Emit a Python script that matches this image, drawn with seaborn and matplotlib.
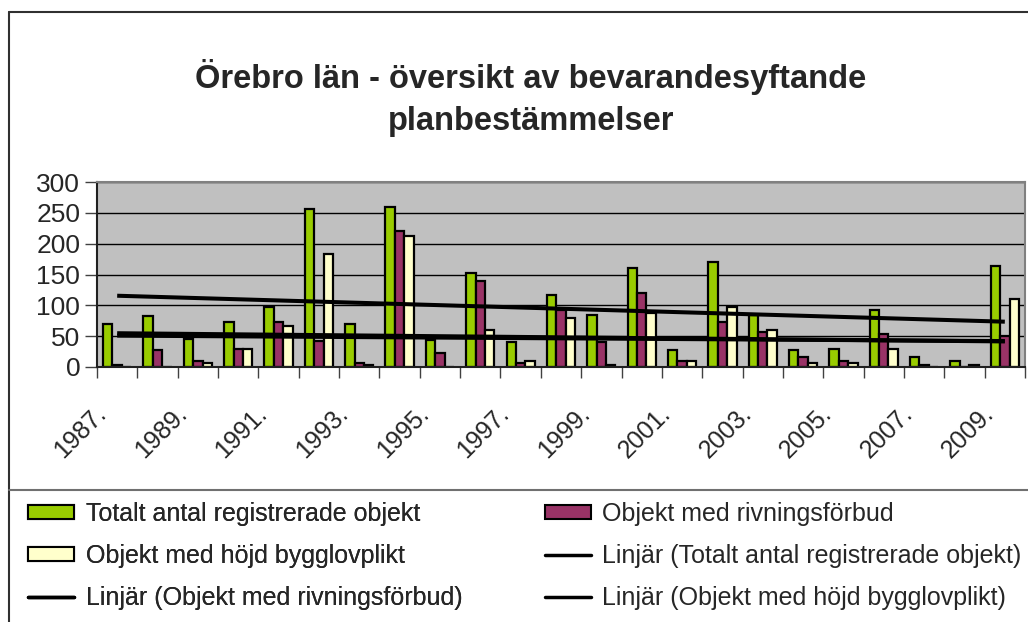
import numpy as np
import pandas as pd
import matplotlib
matplotlib.use("Agg")
import matplotlib.pyplot as plt
import matplotlib.transforms as mtransforms
import seaborn as sns
from matplotlib.lines import Line2D
from matplotlib.patches import Patch

years = [str(y) for y in range(1987, 2010)]
tick_labels = [f"{y}." if (int(y) - 1987) % 2 == 0 else "" for y in years]

totalt = [70, 83, 46, 73, 97, 257, 70, 260, 43, 153, 40, 117, 84, 160, 27, 170, 84, 27, 30, 93, 17, 10, 163]
rivning = [3, 27, 10, 30, 73, 42, 7, 220, 23, 140, 7, 93, 40, 120, 10, 73, 56, 17, 10, 53, 3, 0, 50]
bygglov = [0, 0, 7, 30, 67, 183, 4, 213, 0, 60, 10, 80, 4, 87, 10, 97, 60, 7, 7, 30, 0, 3, 110]

s_tot = "Totalt antal registrerade objekt"
s_riv = "Objekt med rivningsförbud"
s_byg = "Objekt med höjd bygglovplikt"
series_names = [s_tot, s_riv, s_byg]
colors = ["#99CC00", "#993366", "#FFFFCC"]

df = pd.DataFrame({
    "year": years * 3,
    "value": totalt + rivning + bygglov,
    "series": [s_tot] * 23 + [s_riv] * 23 + [s_byg] * 23,
})

sns.set_theme(style="white")
plt.rcParams["font.family"] = ["Liberation Sans", "DejaVu Sans"]

W, H = 1028, 622
fig = plt.figure(figsize=(W / 100, H / 100), dpi=100)
ax = fig.add_axes([97 / W, 1 - 367 / H, (1025 - 97) / W, (367 - 182) / H])
ax.set_facecolor("#C0C0C0")

sns.barplot(data=df, x="year", y="value", hue="series", hue_order=series_names,
            palette=colors, edgecolor="black", linewidth=1.6, width=0.7,
            ax=ax, legend=False, saturation=1)

xs = np.arange(len(years))
for vals in [totalt, rivning, bygglov]:
    k, m = np.polyfit(xs, vals, 1)
    ax.plot(xs, k * xs + m, color="black", lw=2.9, zorder=5, solid_capstyle="butt")

ax.set_ylim(0, 300)
ax.set_xlim(-0.5, len(years) - 0.5)
ax.set_yticks(range(0, 301, 50))
ax.yaxis.grid(True, color="black", lw=1)
ax.set_axisbelow(True)
ax.set_xticks(np.arange(-0.5, len(years), 1))
ax.set_xticklabels([])
ax.set_xticks(xs, minor=True)
ax.set_xticklabels(tick_labels, minor=True, rotation=45, ha="right", va="center",
                   rotation_mode="anchor", fontsize=18)
ax.tick_params(axis="x", which="minor", length=0, pad=31)
shift = mtransforms.ScaledTranslation(-15 / 100, 0, fig.dpi_scale_trans)
for lbl in ax.get_xticklabels(minor=True):
    lbl.set_transform(lbl.get_transform() + shift)
ax.tick_params(axis="x", which="major", length=8, width=1, color="#404040", direction="out")
ax.tick_params(axis="y", length=9, width=1, color="#404040", direction="out", labelsize=19, pad=3)
ax.tick_params(bottom=True, left=True)
ax.set_xlabel("")
ax.set_ylabel("")
for sp in ["top", "right"]:
    ax.spines[sp].set_color("#808080")
    ax.spines[sp].set_linewidth(1.5)
for sp in ["left", "bottom"]:
    ax.spines[sp].set_color("#202020")
    ax.spines[sp].set_linewidth(1.5)

fig.text(531 / W, 1 - 98 / H, "Örebro län - översikt av bevarandesyftande\nplanbestämmelser",
         ha="center", va="center", fontsize=23.5, fontweight="bold", linespacing=1.45)

# chart border and legend separator
fig.add_artist(Line2D([8.5 / W, 8.5 / W], [0, 1 - 12 / H], color="#303030", lw=1.5, transform=fig.transFigure))
fig.add_artist(Line2D([8.5 / W, 1], [1 - 12 / H, 1 - 12 / H], color="#303030", lw=1.5, transform=fig.transFigure))
fig.add_artist(Line2D([8.5 / W, 1], [1 - 490 / H, 1 - 490 / H], color="#707070", lw=1.5, transform=fig.transFigure))

h_tot = Patch(facecolor=colors[0], edgecolor="black", lw=1.5)
h_riv = Patch(facecolor=colors[1], edgecolor="black", lw=1.5)
h_byg = Patch(facecolor=colors[2], edgecolor="black", lw=1.5)
h_line = Line2D([0], [0], color="black", lw=2.5)

leg_kw = dict(loc="upper left", frameon=False, fontsize=18, handlelength=1.85,
              handleheight=0.5, handletextpad=0.45, labelspacing=0.72, borderpad=0,
              borderaxespad=0)
leg1 = fig.legend([h_tot, h_byg, h_line],
                  [s_tot, s_byg, "Linjär (" + s_riv + ")"],
                  bbox_to_anchor=(28 / W, 1 - 502 / H), **leg_kw)
fig.add_artist(leg1)
fig.legend([h_riv, h_line, h_line],
           [s_riv, "Linjär (" + s_tot + ")", "Linjär (" + s_byg + ")"],
           bbox_to_anchor=(545 / W, 1 - 502 / H), **leg_kw)

fig.savefig("out.png", dpi=100)
